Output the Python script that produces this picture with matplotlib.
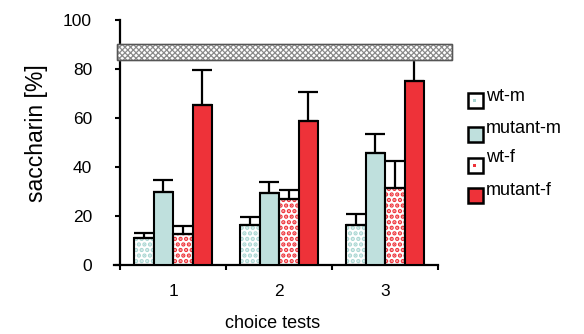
import matplotlib
matplotlib.use("Agg")
import matplotlib.pyplot as plt
from matplotlib.patches import Rectangle
import numpy as np

plt.rcParams['font.family'] = ['Liberation Sans', 'DejaVu Sans']

groups = ["1", "2", "3"]
series_names = ["wt-m", "mutant-m", "wt-f", "mutant-f"]
wt_m = [11.0, 16.3, 16.3]
wt_m_err = [2.0, 3.3, 4.5]
mutant_m = [30.0, 29.4, 45.7]
mutant_m_err = [4.7, 4.5, 7.8]
wt_f = [12.7, 27.0, 31.4]
wt_f_err = [3.3, 3.6, 11.0]
mutant_f = [65.3, 58.8, 75.1]
mutant_f_err = [14.3, 11.8, 13.0]
band_low, band_high = 83.7, 90.2
yticks = [0, 20, 40, 60, 80, 100]

teal = "#a9d6d2"
red = "#ee3239"
teal_fill = "#bfe0dd"

W, H = 584, 334
fig = plt.figure(figsize=(W / 100, H / 100), dpi=100)
ax = fig.add_axes([114 / W, 1 - 265 / H, (438 - 114) / W, (265 - 20) / H])

x = np.arange(len(groups))
bw = 0.184
styles = [
    dict(face="white", hatch="...", hcolor=teal),
    dict(face=teal_fill, hatch=None, hcolor=None),
    dict(face="white", hatch="...", hcolor=red),
    dict(face=red, hatch=None, hcolor=None),
]
vals = [wt_m, mutant_m, wt_f, mutant_f]
errs = [wt_m_err, mutant_m_err, wt_f_err, mutant_f_err]
for i, (v, e, st) in enumerate(zip(vals, errs, styles)):
    pos = x + (i - 1.5) * bw
    if st["hatch"]:
        plt.rcParams['hatch.linewidth'] = 2.2
        ax.bar(pos, v, bw, color=st["face"], edgecolor=st["hcolor"], hatch=st["hatch"],
               linewidth=0, zorder=2)
        ax.bar(pos, v, bw, fill=False, edgecolor="black", linewidth=1.5, zorder=3)
    else:
        ax.bar(pos, v, bw, color=st["face"], edgecolor="black", linewidth=1.5, zorder=3)
    ax.errorbar(pos, v, yerr=[np.zeros(len(e)), e], fmt="none", ecolor="black",
                elinewidth=1.6, capsize=7, capthick=1.6, zorder=4)

# gray checkered band
plt.rcParams['hatch.linewidth'] = 0.9
band = Rectangle((-0.529, band_low), 3.161, band_high - band_low, facecolor="white",
                 edgecolor="#8a8a8a", hatch="xxxxxx", linewidth=1.0, zorder=6, clip_on=False)
ax.add_patch(band)
band_edge = Rectangle((-0.529, band_low), 3.161, band_high - band_low, fill=False,
                      edgecolor="#555555", linewidth=1.0, zorder=7, clip_on=False)
ax.add_patch(band_edge)

ax.set_xlim(-0.557, 2.5)
ax.set_ylim(0, 100)
ax.spines["left"].set_position(("data", -0.5))
ax.set_yticks(yticks)
ax.set_yticklabels([str(t) for t in yticks])
ax.set_xticks(x)
ax.set_xticklabels(groups)
ax.set_xticks(np.arange(-0.5, 3.0, 1.0), minor=True)
ax.tick_params(axis="x", which="major", length=0, pad=13.5, labelsize=12.5)
ax.tick_params(axis="x", which="minor", length=3.6, width=1.5, direction="out")
ax.tick_params(axis="y", which="major", length=3.6, width=1.5, direction="out", pad=16.5,
               labelsize=12.5)
for s in ["top", "right"]:
    ax.spines[s].set_visible(False)
for s in ["left", "bottom"]:
    ax.spines[s].set_linewidth(1.6)

ax.set_ylabel("saccharin [%]", fontsize=16.5)
ax.yaxis.set_label_coords(-0.204, 0.537)
ax.set_xlabel("choice tests", fontsize=13)
ax.xaxis.set_label_coords(0.488, -0.205)

# legend (manual)
sq_tops = [93, 127, 158, 188]
baselines = [101, 133, 162, 195]
for name, st, top, bl in zip(series_names, styles, sq_tops, baselines):
    r = Rectangle((468 / W, 1 - (top + 15) / H), 15 / W, 15 / H, transform=fig.transFigure,
                  facecolor=st["face"], edgecolor="black", linewidth=1.8, figure=fig)
    fig.patches.append(r)
    if st["hatch"]:
        fig.patches.append(Rectangle((473 / W, 1 - (top + 9) / H), 3 / W, 3 / H,
                                     transform=fig.transFigure, facecolor=st["hcolor"],
                                     edgecolor="none", figure=fig))
    fig.text(486 / W, 1 - bl / H, name, fontsize=13, va="baseline", ha="left")

fig.savefig("out.png", dpi=100)
